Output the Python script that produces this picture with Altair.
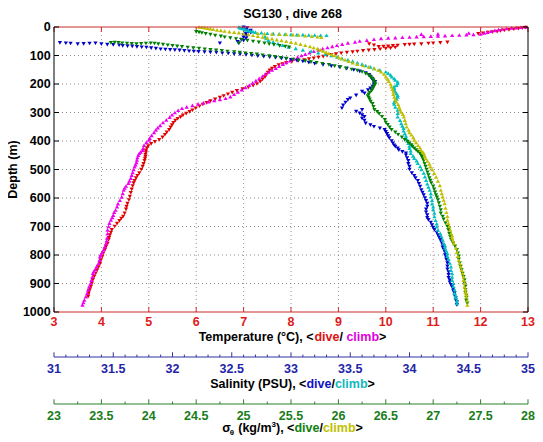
import altair as alt
import pandas as pd

# ---------------- data (depth m, value) ----------------
temp_dive = [
    (2, 12.95), (4, 12.88), (6, 12.8), (8, 12.7), (10, 12.6), (12, 12.5), (14, 12.42), (16, 12.35),
    (18, 12.25), (20, 12.15), (22, 12.05), (24, 11.95),
    (54, 11.3), (56, 11.15), (57, 11.0), (58, 10.9), (60, 10.75), (61, 10.6), (62, 10.5), (63, 10.4),
    (65, 10.25), (66, 10.15), (68, 10.05), (69, 9.95), (70, 9.85), (64, 9.75), (60, 9.65),
    (72, 10.2), (74, 10.1), (76, 10.0), (78, 9.88), (80, 9.76), (82, 9.64), (84, 9.52), (86, 9.4),
    (88, 9.3), (90, 9.18), (92, 9.06), (95, 8.95), (98, 8.85), (101, 8.76), (104, 8.68), (107, 8.58),
    (110, 8.48), (113, 8.38), (116, 8.28), (119, 8.15), (122, 8.02), (126, 7.9), (130, 7.82),
    (134, 7.74), (140, 7.66), (146, 7.6), (152, 7.55), (160, 7.51), (168, 7.48), (176, 7.45),
    (184, 7.4), (192, 7.35), (200, 7.28), (206, 7.2), (212, 7.1), (218, 6.98), (224, 6.86),
    (230, 6.76), (236, 6.67), (242, 6.58), (248, 6.5), (254, 6.4), (260, 6.3), (266, 6.22),
    (272, 6.14), (278, 6.07), (285, 5.99), (292, 5.92), (298, 5.86), (304, 5.79), (310, 5.72),
    (316, 5.67), (322, 5.61), (328, 5.56), (336, 5.52), (344, 5.49), (352, 5.46), (361, 5.43),
    (370, 5.38), (378, 5.34), (387, 5.29), (396, 5.22), (403, 5.13), (410, 5.05), (418, 4.99),
    (425, 4.96), (433, 4.94), (440, 4.94), (448, 4.93), (455, 4.93), (462, 4.92), (470, 4.91),
    (480, 4.89), (490, 4.87), (500, 4.84), (513, 4.8), (522, 4.76), (530, 4.73), (540, 4.7),
    (548, 4.68), (558, 4.66), (570, 4.64), (582, 4.62), (595, 4.6), (607, 4.58), (620, 4.55),
    (630, 4.53), (640, 4.52), (654, 4.49), (665, 4.46), (672, 4.42), (680, 4.38), (690, 4.33),
    (700, 4.28), (712, 4.22), (721, 4.2), (730, 4.18), (740, 4.16), (747, 4.15), (760, 4.13),
    (770, 4.1), (780, 4.08), (794, 4.04), (806, 4.02), (818, 3.99), (830, 3.97), (842, 3.94),
    (853, 3.91), (864, 3.88), (875, 3.85), (887, 3.82), (899, 3.8), (910, 3.78), (920, 3.76),
    (927, 3.74), (934, 3.73), (940, 3.72), (946, 3.72),
]

temp_climb = [
    (0, 12.95), (1, 12.85), (2, 12.75), (3, 12.65), (5, 12.55), (7, 12.45), (9, 12.38), (12, 12.3),
    (15, 12.22), (18, 12.15), (21, 12.08), (24, 12.0), (26, 11.85), (27, 11.7), (28, 11.55),
    (29, 11.4), (30, 11.25), (31, 11.1), (32, 10.95), (33, 10.8), (34, 10.65), (35, 10.5),
    (36, 10.35), (37, 10.2), (38, 10.05), (40, 9.9), (43, 9.75), (46, 9.6), (49, 9.45), (52, 9.35),
    (56, 9.2), (60, 9.08), (64, 8.97), (68, 8.87), (72, 8.77), (76, 8.67), (80, 8.58), (85, 8.48),
    (90, 8.39), (95, 8.3), (100, 8.22), (106, 8.14), (112, 8.06), (118, 7.98), (124, 7.9),
    (130, 7.83), (137, 7.75), (144, 7.68), (151, 7.6), (158, 7.53), (165, 7.46), (172, 7.4),
    (180, 7.33), (188, 7.26), (196, 7.19), (204, 7.12), (212, 7.04), (220, 6.96), (228, 6.88),
    (236, 6.8), (244, 6.72), (250, 6.62), (254, 6.5), (258, 6.38), (262, 6.26), (266, 6.15),
    (270, 6.04), (275, 5.92), (280, 5.8), (285, 5.7), (292, 5.62), (300, 5.55), (308, 5.49),
    (316, 5.44), (326, 5.37), (335, 5.3), (345, 5.24), (353, 5.19), (361, 5.15), (370, 5.11),
    (380, 5.06), (390, 5.02), (396, 5.0), (405, 4.95), (415, 4.9), (425, 4.88), (432, 4.87),
    (438, 4.83), (443, 4.8), (450, 4.78), (458, 4.76), (466, 4.75), (475, 4.74), (483, 4.72),
    (490, 4.7), (500, 4.68), (510, 4.66), (520, 4.64), (530, 4.62), (540, 4.59), (548, 4.57),
    (558, 4.52), (565, 4.49), (572, 4.47), (584, 4.45), (596, 4.43), (608, 4.39), (620, 4.35),
    (630, 4.33), (642, 4.3), (650, 4.27), (660, 4.25), (668, 4.23), (677, 4.2), (688, 4.17),
    (700, 4.15), (712, 4.13), (725, 4.13), (740, 4.12), (750, 4.11), (759, 4.1), (771, 4.07),
    (780, 4.05), (790, 4.02), (798, 3.99), (806, 3.97), (818, 3.96), (829, 3.94), (840, 3.9),
    (850, 3.87), (858, 3.84), (864, 3.82), (876, 3.81), (888, 3.79), (900, 3.77), (911, 3.74),
    (922, 3.72), (934, 3.7), (946, 3.67), (958, 3.64), (966, 3.62), (975, 3.6),
    (21, 11.75), (24, 11.1), (25, 10.75),
]

sal_dive = [
    (1, 32.6), (4, 32.63), (7, 32.6), (10, 32.62), (13, 32.66), (16, 32.64), (20, 32.66), (24, 32.62),
    (28, 32.6), (32, 32.63), (36, 32.6), (40, 32.62), (44, 32.58), (48, 32.6), (52, 32.55),
    (57, 32.4), (57, 32.56),
    (56, 31.05), (57, 31.1), (58, 31.14), (60, 31.2), (59, 31.25), (58, 31.3), (57, 31.35),
    (60, 31.4), (62, 31.45), (63, 31.5), (64, 31.55), (66, 31.58), (67, 31.62), (68, 31.66),
    (70, 31.7), (71, 31.74), (72, 31.78), (74, 31.82), (76, 31.86), (78, 31.9), (79, 31.94),
    (80, 31.98), (81, 32.02), (82, 32.06), (84, 32.1), (85, 32.14), (86, 32.18), (87, 32.22),
    (88, 32.27), (89, 32.32), (90, 32.37), (92, 32.42), (93, 32.47), (95, 32.52), (96, 32.57),
    (98, 32.62), (100, 32.67), (102, 32.72), (104, 32.77), (106, 32.82), (108, 32.87), (110, 32.92),
    (112, 32.96), (115, 33.0), (118, 33.05), (121, 33.1), (125, 33.15), (129, 33.2), (133, 33.27),
    (137, 33.34), (141, 33.41), (146, 33.47), (151, 33.53), (156, 33.58), (162, 33.63), (168, 33.66),
    (174, 33.67), (180, 33.68), (186, 33.69), (192, 33.71), (198, 33.7), (204, 33.7), (209, 33.69),
    (215, 33.67), (221, 33.65), (227, 33.6), (233, 33.62), (240, 33.55), (250, 33.5), (256, 33.48),
    (265, 33.46), (275, 33.44), (285, 33.43), (291, 33.6), (297, 33.55), (303, 33.58), (309, 33.6),
    (315, 33.62), (321, 33.6), (328, 33.62), (338, 33.63), (344, 33.67), (350, 33.7), (356, 33.75),
    (361, 33.79), (368, 33.8), (375, 33.81), (383, 33.82), (390, 33.83), (400, 33.85), (408, 33.86),
    (415, 33.87), (420, 33.88), (426, 33.9), (432, 33.91), (438, 33.94), (443, 33.97), (450, 33.97),
    (460, 33.98), (470, 33.99), (480, 33.99), (490, 34.0), (500, 34.0), (513, 34.02), (522, 34.04),
    (530, 34.05), (540, 34.07), (550, 34.08), (560, 34.09), (572, 34.1), (581, 34.11), (590, 34.12),
    (600, 34.13), (610, 34.14), (620, 34.15), (630, 34.15), (640, 34.14), (650, 34.14), (660, 34.15),
    (670, 34.15), (677, 34.16), (686, 34.18), (695, 34.19), (704, 34.2), (712, 34.21), (721, 34.23),
    (730, 34.24), (738, 34.25), (747, 34.26), (756, 34.27), (765, 34.28), (773, 34.28), (782, 34.29),
    (791, 34.3), (800, 34.3), (808, 34.31), (815, 34.31), (822, 34.32), (829, 34.32), (840, 34.32),
    (850, 34.32), (860, 34.33), (870, 34.33), (880, 34.33), (888, 34.34), (896, 34.34), (905, 34.35),
    (913, 34.36), (920, 34.37), (927, 34.37), (934, 34.38), (942, 34.38), (950, 34.39), (958, 34.39),
    (965, 34.4), (975, 34.4),
]

sal_climb = [
    (0, 32.56), (2, 32.57), (4, 32.58), (6, 32.6), (8, 32.61), (10, 32.62), (12, 32.64), (14, 32.66),
    (16, 32.68), (18, 32.7), (20, 32.75), (22, 32.8), (23, 32.85), (24, 32.9), (25, 32.95), (26, 33.0),
    (27, 33.05), (27, 33.1), (28, 33.15), (28, 33.2), (29, 33.25), (29, 33.3),
    (34, 32.78), (40, 32.79), (46, 32.81), (52, 32.85), (58, 32.89), (64, 32.93), (70, 32.98),
    (75, 33.04), (80, 33.1), (85, 33.17), (90, 33.23), (95, 33.29), (100, 33.34), (105, 33.39),
    (110, 33.43), (115, 33.48), (120, 33.52), (125, 33.56), (130, 33.6), (135, 33.63), (140, 33.67),
    (145, 33.7), (151, 33.75), (157, 33.8), (162, 33.82), (168, 33.84), (174, 33.85), (180, 33.87),
    (186, 33.88), (192, 33.9), (198, 33.9), (204, 33.89), (209, 33.87), (215, 33.87), (221, 33.87),
    (227, 33.88), (233, 33.89), (239, 33.9), (245, 33.9), (252, 33.89), (258, 33.88), (264, 33.87),
    (270, 33.87), (280, 33.88), (291, 33.9), (303, 33.9), (315, 33.9), (327, 33.92), (338, 33.93),
    (347, 33.94), (355, 33.95), (364, 33.95), (373, 33.96), (382, 33.97), (390, 33.97), (399, 33.98),
    (408, 33.99), (417, 34.0), (425, 34.0), (434, 34.01), (443, 34.01), (452, 34.03), (460, 34.04),
    (469, 34.06), (478, 34.07), (489, 34.09), (500, 34.1), (512, 34.12), (525, 34.13), (537, 34.14),
    (550, 34.15), (561, 34.16), (572, 34.17), (584, 34.18), (595, 34.18), (608, 34.19), (620, 34.19),
    (630, 34.2), (640, 34.2), (652, 34.21), (665, 34.21), (678, 34.22), (690, 34.23), (700, 34.23),
    (712, 34.24), (724, 34.26), (735, 34.27), (747, 34.28), (759, 34.29), (767, 34.3), (775, 34.3),
    (785, 34.31), (794, 34.32), (804, 34.32), (815, 34.33), (828, 34.34), (841, 34.35), (853, 34.35),
    (865, 34.36), (877, 34.36), (888, 34.36), (899, 34.37), (910, 34.37), (922, 34.38), (934, 34.38),
    (942, 34.39), (950, 34.39), (960, 34.4), (970, 34.4),
]

sig_dive = [
    (17, 24.5), (19, 24.53), (21, 24.56), (24, 24.6), (27, 24.65), (30, 24.7), (33, 24.76), (36, 24.8),
    (39, 24.86), (42, 24.92), (45, 24.98), (48, 25.04), (51, 25.1), (54, 25.16), (57, 24.95),
    (57, 25.22), (60, 25.27), (63, 25.32), (66, 25.38), (69, 25.44), (71, 25.48),
    (56, 23.6), (55, 23.64), (56, 23.68), (57, 23.72), (58, 23.77), (59, 23.82), (60, 23.87),
    (59, 23.92), (58, 23.97), (57, 24.02), (58, 24.06), (60, 24.1), (62, 24.15), (64, 24.2),
    (66, 24.25), (68, 24.3), (70, 24.35), (72, 24.41), (74, 24.47), (76, 24.53), (78, 24.59),
    (80, 24.65), (82, 24.71), (84, 24.77), (86, 24.83), (88, 24.9), (90, 24.96), (92, 25.02),
    (94, 25.08), (96, 25.14), (99, 25.2), (102, 25.27), (105, 25.33), (108, 25.39), (111, 25.45),
    (114, 25.52), (117, 25.58), (120, 25.65), (123, 25.71), (126, 25.77), (129, 25.83), (133, 25.9),
    (137, 25.96), (141, 26.02), (145, 26.08), (149, 26.14), (153, 26.2), (158, 26.25), (164, 26.29),
    (170, 26.32), (176, 26.34), (182, 26.36), (188, 26.37), (194, 26.38), (200, 26.39), (206, 26.38),
    (212, 26.37), (218, 26.36), (224, 26.35), (230, 26.33), (236, 26.32), (242, 26.31), (248, 26.32),
    (254, 26.33), (262, 26.34), (270, 26.36), (280, 26.37), (291, 26.38), (298, 26.41), (305, 26.43),
    (315, 26.46), (326, 26.49), (335, 26.5), (343, 26.52), (352, 26.54), (361, 26.56), (370, 26.6),
    (378, 26.63), (387, 26.67), (396, 26.7), (402, 26.73), (408, 26.75), (414, 26.77), (420, 26.78),
    (426, 26.8), (432, 26.82), (438, 26.84), (443, 26.86), (449, 26.87), (455, 26.88), (462, 26.89),
    (470, 26.9), (480, 26.91), (490, 26.92), (500, 26.93), (510, 26.94), (520, 26.95), (530, 26.96),
    (539, 26.97), (548, 26.98), (559, 27.0), (570, 27.01), (580, 27.02), (590, 27.03), (598, 27.04),
    (607, 27.05), (618, 27.06), (630, 27.07), (642, 27.08), (654, 27.08), (665, 27.1), (675, 27.11),
    (688, 27.13), (700, 27.15), (712, 27.16), (725, 27.17), (736, 27.18), (747, 27.19), (758, 27.21),
    (770, 27.23), (782, 27.25), (794, 27.26), (805, 27.27), (815, 27.27), (828, 27.28), (841, 27.29),
    (853, 27.3), (865, 27.31), (877, 27.32), (888, 27.33), (899, 27.33), (910, 27.34), (922, 27.34),
    (934, 27.34), (942, 27.35), (950, 27.35), (960, 27.35), (970, 27.36),
]

sig_climb = [
    (0, 24.53), (1, 24.56), (2, 24.59), (4, 24.62), (6, 24.65), (8, 24.68), (10, 24.72), (12, 24.76),
    (14, 24.8), (16, 24.85), (18, 24.9), (20, 24.95), (23, 25.0), (26, 25.05), (29, 25.1), (32, 25.15),
    (35, 25.2), (38, 25.25), (41, 25.3), (44, 25.35), (47, 25.4), (50, 25.45), (53, 25.5), (56, 25.55),
    (60, 25.6), (64, 25.65), (68, 25.7), (72, 25.74), (76, 25.78), (80, 25.81), (84, 25.84),
    (88, 25.87), (92, 25.9), (96, 25.93), (100, 25.96), (105, 26.0), (110, 26.03), (115, 26.07),
    (120, 26.11), (125, 26.15), (130, 26.2), (135, 26.26), (140, 26.32), (145, 26.38), (151, 26.42),
    (157, 26.45), (165, 26.48), (174, 26.5), (182, 26.52), (190, 26.53), (200, 26.55), (209, 26.56),
    (218, 26.57), (227, 26.58), (236, 26.58), (245, 26.59), (254, 26.6), (262, 26.61), (271, 26.63),
    (280, 26.64), (289, 26.65), (298, 26.66), (306, 26.68), (315, 26.69), (327, 26.7), (338, 26.71),
    (350, 26.72), (361, 26.74), (370, 26.75), (378, 26.77), (387, 26.79), (396, 26.8), (405, 26.82),
    (415, 26.84), (423, 26.86), (432, 26.87), (438, 26.89), (443, 26.9), (452, 26.91), (461, 26.92),
    (470, 26.94), (480, 26.96), (490, 26.97), (500, 26.99), (513, 27.01), (526, 27.03), (540, 27.05),
    (556, 27.07), (572, 27.08), (584, 27.09), (595, 27.1), (607, 27.11), (619, 27.12), (635, 27.13),
    (650, 27.14), (664, 27.15), (677, 27.15), (688, 27.16), (700, 27.17), (712, 27.18), (724, 27.19),
    (732, 27.2), (740, 27.2), (750, 27.21), (759, 27.22), (775, 27.24), (790, 27.25), (804, 27.26),
    (818, 27.27), (829, 27.28), (840, 27.29), (852, 27.3), (864, 27.31), (876, 27.32), (888, 27.32),
    (899, 27.33), (911, 27.33), (920, 27.34), (930, 27.34), (938, 27.35), (946, 27.35), (960, 27.36),
    (975, 27.36),
    (22, 25.15), (23, 25.22), (24, 25.3), (25, 25.38), (26, 25.45), (27, 25.52), (28, 25.58),
    (30, 25.65), (32, 25.72), (34, 25.78), (36, 25.82),
]

depth_ticks = [0, 100, 200, 300, 400, 500, 600, 700, 800, 900, 1000]
temp_ticks = [3, 4, 5, 6, 7, 8, 9, 10, 11, 12, 13]
sal_major = [31, 31.5, 32, 32.5, 33, 33.5, 34, 34.5, 35]
sal_minor = [31.1, 31.2, 31.3, 31.4, 31.6, 31.7, 31.8, 31.9, 32.1, 32.2, 32.3, 32.4,
             32.6, 32.7, 32.8, 32.9, 33.1, 33.2, 33.3, 33.4, 33.6, 33.7, 33.8, 33.9,
             34.1, 34.2, 34.3, 34.4, 34.6, 34.7, 34.8, 34.9]
sig_major = [23, 23.5, 24, 24.5, 25, 25.5, 26, 26.5, 27, 27.5, 28]
sig_minor = [23.25, 23.75, 24.25, 24.75, 25.25, 25.75, 26.25, 26.75, 27.25, 27.75]

chart_title = "SG130 , dive 268"
depth_title = "Depth (m)"

# ---------------- styling ----------------
FONT = "Liberation Sans"
FS = 12.5
W, H = 474, 285
CX = 238.5
SAL_OFF, SIG_OFF = 45, 92

RED, MAG = "#e00000", "#ee00ee"
BLUE, CYAN = "#0000cc", "#00bfbf"
GREEN, YEL = "#008000", "#bfbf00"
RED_AX, RED_LBL = "#cc2a2a", "#dd1c1c"
BLUE_AX, BLUE_LBL = "#3030a0", "#2424a8"
GREEN_AX, GREEN_LBL = "#2a802a", "#1a7d1a"
BLACK = "#000000"
XGRID, YGRID = "#b08c8c", "#8c8c8c"

yscale = alt.Scale(domain=[0, 1000], reverse=True, nice=False, zero=False)
tscale = alt.Scale(domain=[3, 13], nice=False, zero=False)
sscale = alt.Scale(domain=[31, 35], nice=False, zero=False)
gscale = alt.Scale(domain=[23, 28], nice=False, zero=False)

ONE = pd.DataFrame({"k": [0]})


def frame(pairs, field):
    return pd.DataFrame(pairs, columns=["depth", field])


def scatter(pairs, field, scale, color, shape):
    return alt.Chart(frame(pairs, field)).mark_point(
        shape=shape, filled=True, size=18, color=color, opacity=1, strokeWidth=0
    ).encode(
        x=alt.X(f"{field}:Q", scale=scale, axis=None),
        y=alt.Y("depth:Q", scale=yscale, axis=None),
    )


def xticks(values, field, scale, color, y0, y1):
    return alt.Chart(pd.DataFrame({field: values})).mark_rule(color=color, strokeWidth=1).encode(
        x=alt.X(f"{field}:Q", scale=scale, axis=None),
        y=alt.value(y0), y2=alt.value(y1),
    )


def xlabels(values, field, scale, color, ybase):
    return alt.Chart(pd.DataFrame({field: values})).mark_text(
        font=FONT, fontSize=FS, fontWeight="bold", color=color, align="center", baseline="alphabetic"
    ).encode(
        x=alt.X(f"{field}:Q", scale=scale, axis=None),
        y=alt.value(ybase),
        text=alt.Text(f"{field}:Q", format="~g"),
    )


def hline(color, y):
    return alt.Chart(ONE).mark_rule(color=color, strokeWidth=1).encode(
        x=alt.value(0), x2=alt.value(W), y=alt.value(y))


def vline(color, x):
    return alt.Chart(ONE).mark_rule(color=color, strokeWidth=1).encode(
        x=alt.value(x), y=alt.value(0), y2=alt.value(H))


# text widths (Liberation Sans Bold advances per 1000 em)
ADV = {" ": 278, "(": 333, ")": 333, ",": 278, ".": 278, "/": 278, "<": 584, ">": 584, "°": 400,
       "C": 722, "P": 667, "S": 667, "T": 611, "U": 722, "G": 778,
       "a": 556, "b": 611, "c": 556, "d": 611, "e": 556, "g": 611, "i": 278, "k": 556, "l": 278,
       "m": 889, "n": 611, "p": 611, "r": 389, "t": 333, "u": 611, "v": 556, "y": 556,
       "σ": 617, "θ": 611}


def tw(s, size):
    return sum(ADV.get(c, 556) for c in s) * size / 1000.0


def text_row(segs, ybase):
    total = sum(tw(t, sz) for t, c, sz, dy in segs)
    x = CX - total / 2
    out = []
    for t, c, sz, dy in segs:
        lead = len(t) - len(t.lstrip(" "))
        shown = t.strip(" ")
        out.append(alt.Chart(ONE).mark_text(
            text=shown, color=c, font=FONT, fontSize=sz, fontWeight="bold",
            align="left", baseline="alphabetic"
        ).encode(x=alt.value(x + tw(" " * lead, sz)), y=alt.value(ybase + dy)))
        x += tw(t, sz)
    return out


# ---------------- layers ----------------
ytick_df = pd.DataFrame({"depth": depth_ticks})

temp_group = alt.layer(
    alt.Chart(pd.DataFrame({"T": temp_ticks[1:-1]})).mark_rule(
        color=XGRID, strokeWidth=1, strokeDash=[1, 3]).encode(
        x=alt.X("T:Q", scale=tscale, axis=None), y=alt.value(0), y2=alt.value(H)),
    alt.Chart(pd.DataFrame({"depth": depth_ticks[1:-1]})).mark_rule(
        color=YGRID, strokeWidth=1, strokeDash=[1, 3]).encode(
        y=alt.Y("depth:Q", scale=yscale, axis=None), x=alt.value(0), x2=alt.value(W)),
    scatter(temp_dive, "T", tscale, RED, "triangle-down"),
    scatter(temp_climb, "T", tscale, MAG, "triangle-up"),
    xticks(temp_ticks, "T", tscale, RED_AX, H, H - 5),
    xticks(temp_ticks, "T", tscale, RED_AX, 0, 5),
    xlabels(temp_ticks, "T", tscale, RED_LBL, H + 14.3),
)

sal_group = alt.layer(
    scatter(sal_dive, "S", sscale, BLUE, "triangle-down"),
    scatter(sal_climb, "S", sscale, CYAN, "triangle-up"),
    xticks(sal_major, "S", sscale, BLUE_AX, H + SAL_OFF, H + SAL_OFF - 4.7),
    xticks(sal_minor, "S", sscale, BLUE_AX, H + SAL_OFF, H + SAL_OFF - 2.4),
    xlabels(sal_major, "S", sscale, BLUE_LBL, H + SAL_OFF + 16),
)

sig_group = alt.layer(
    scatter(sig_dive, "G", gscale, GREEN, "triangle-down"),
    scatter(sig_climb, "G", gscale, YEL, "triangle-up"),
    xticks(sig_major, "G", gscale, GREEN_AX, H + SIG_OFF, H + SIG_OFF - 4.7),
    xticks(sig_minor, "G", gscale, GREEN_AX, H + SIG_OFF, H + SIG_OFF - 2.4),
    xlabels(sig_major, "G", gscale, GREEN_LBL, H + SIG_OFF + 15.7),
)

misc = [
    hline(RED_AX, 0), hline(RED_AX, H),
    hline(BLUE_AX, H + SAL_OFF), hline(GREEN_AX, H + SIG_OFF),
    vline(BLACK, 0), vline(BLACK, W),
    alt.Chart(ytick_df).mark_rule(color=BLACK, strokeWidth=1).encode(
        y=alt.Y("depth:Q", scale=yscale, axis=None), x=alt.value(0), x2=alt.value(5)),
    alt.Chart(ytick_df).mark_rule(color=BLACK, strokeWidth=1).encode(
        y=alt.Y("depth:Q", scale=yscale, axis=None), x=alt.value(W - 5), x2=alt.value(W)),
    alt.Chart(ytick_df).mark_text(font=FONT, fontSize=FS, fontWeight="bold", color=BLACK,
                                  align="right", baseline="middle").encode(
        y=alt.Y("depth:Q", scale=yscale, axis=None), x=alt.value(-3.3),
        text=alt.Text("depth:Q", format="d")),
    alt.Chart(ONE).mark_text(text=chart_title, font=FONT, fontSize=FS, fontWeight="bold",
                             color=BLACK, align="center", baseline="alphabetic").encode(
        x=alt.value(CX), y=alt.value(-9.5)),
    alt.Chart(ONE).mark_text(text=depth_title, font=FONT, fontSize=FS, fontWeight="bold",
                             color=BLACK, align="center", baseline="alphabetic", angle=270).encode(
        x=alt.value(-37.3), y=alt.value(H / 2)),
]

misc += text_row([
    ("Temperature (°C), <", BLACK, FS, 0), ("dive", "#e01010", FS, 0), ("/ ", BLACK, FS, 0),
    ("climb", "#e000e0", FS, 0), (">", BLACK, FS, 0)], 314)
misc += text_row([
    ("Salinity (PSU), <", BLACK, FS, 0), ("dive", "#1010c8", FS, 0), ("/", BLACK, FS, 0),
    ("climb", "#10b8c0", FS, 0), (">", BLACK, FS, 0)], 360.7)
misc += text_row([
    ("σ", BLACK, FS, 0), ("θ", BLACK, 8, 3), (" (kg/m", BLACK, FS, 0), ("3", BLACK, 8, -5),
    ("), <", BLACK, FS, 0), ("dive", "#108010", FS, 0), ("/", BLACK, FS, 0),
    ("climb", "#c0c000", FS, 0), (">", BLACK, FS, 0)], 405.3)

chart = alt.layer(temp_group, sal_group, sig_group, *misc).resolve_scale(
    x="independent"
).properties(
    width=W, height=H,
    autosize=alt.AutoSizeParams(type="none"),
    padding={"left": 46, "top": 19, "right": 7, "bottom": 128},
    background="white",
).configure_view(stroke=None)

chart.save("out.html", embed_options={"renderer": "svg", "actions": False})
